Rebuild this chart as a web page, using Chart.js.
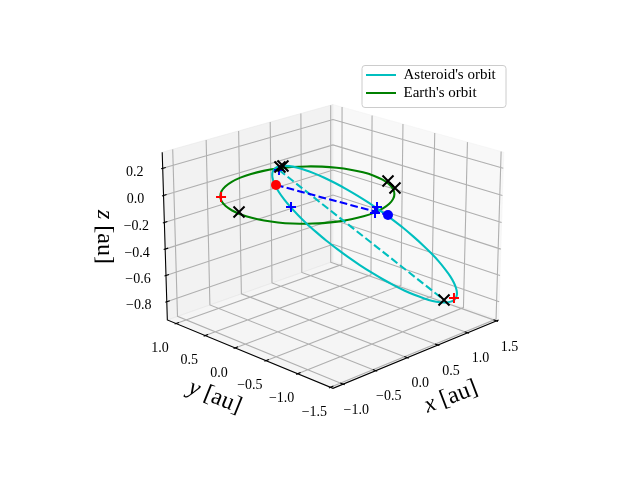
<!DOCTYPE html>
<html><head><meta charset="utf-8"><style>html,body{margin:0;padding:0;background:#fff}canvas{display:block}</style>
<script src="https://cdn.jsdelivr.net/npm/chart.js@4"></script></head><body><canvas id="c" width="640" height="480"></canvas>
<script>
const xLim=[-1.10,1.485], yLim=[-1.485,1.10], zLim=[-0.9155,0.2915];
const xTicks=[-1,-0.5,0,0.5,1,1.5], yTicks=[-1.5,-1,-0.5,0,0.5,1], zTicks=[-0.8,-0.6,-0.4,-0.2,0,0.2];
const asteroidX=[0.086,0.171,0.260,0.351,0.444,0.537,0.629,0.717,0.802,0.881,0.953,1.018,1.073,1.118,1.152,1.174,1.184,1.182,1.167,1.140,1.100,1.049,0.988,0.917,0.837,0.751,0.659,0.563,0.466,0.367,0.271,0.176,0.087,0.003,-0.074,-0.142,-0.201,-0.250,-0.289,-0.316,-0.332,-0.336,-0.329,-0.311,-0.282,-0.242,-0.193,-0.135,-0.068,0.006,0.086];
const asteroidY=[-1.038,-1.128,-1.209,-1.278,-1.336,-1.381,-1.412,-1.429,-1.432,-1.419,-1.392,-1.350,-1.294,-1.224,-1.143,-1.049,-0.946,-0.835,-0.717,-0.595,-0.470,-0.345,-0.222,-0.103,0.009,0.114,0.208,0.291,0.361,0.417,0.459,0.484,0.494,0.489,0.468,0.432,0.382,0.319,0.244,0.159,0.064,-0.038,-0.147,-0.260,-0.376,-0.493,-0.610,-0.724,-0.835,-0.940,-1.038];
const asteroidZ=[0.031,-0.028,-0.090,-0.156,-0.224,-0.293,-0.362,-0.431,-0.497,-0.561,-0.621,-0.676,-0.725,-0.767,-0.801,-0.828,-0.846,-0.855,-0.854,-0.844,-0.825,-0.796,-0.759,-0.714,-0.662,-0.604,-0.540,-0.473,-0.402,-0.330,-0.257,-0.185,-0.116,-0.049,0.014,0.071,0.123,0.167,0.205,0.235,0.256,0.269,0.274,0.270,0.258,0.238,0.210,0.175,0.133,0.085,0.031];
const earthX=[-0.669,-0.780,-0.868,-0.931,-0.967,-0.974,-0.953,-0.903,-0.826,-0.722,-0.595,-0.448,-0.284,-0.110,0.070,0.249,0.422,0.582,0.725,0.844,0.937,0.999,1.030,1.028,0.994,0.930,0.838,0.721,0.585,0.433,0.270,0.101,-0.069,-0.235,-0.393,-0.539,-0.669];
const earthY=[-0.669,-0.548,-0.411,-0.260,-0.100,0.065,0.230,0.392,0.544,0.682,0.803,0.901,0.973,1.016,1.029,1.010,0.960,0.880,0.772,0.641,0.490,0.325,0.151,-0.024,-0.197,-0.361,-0.510,-0.642,-0.751,-0.836,-0.894,-0.924,-0.926,-0.900,-0.847,-0.769,-0.669];
const blackX=[-0.934,1.004,0.877,0.486,-0.330,1.144], blackY=[0.139,-0.274,-0.504,0.980,0.069,-1.045], blackZ=[0,0,0,0,0.254,-0.804];
const redPlusX=[-0.732,1.093], redPlusY=[0.658,-1.241], redPlusZ=[0,-0.746];
const bluePlusX=[0.177,0.041,0.119,-0.276], bluePlusY=[0.475,-1.022,-0.918,0.191], bluePlusZ=[-0.185,0.065,-0.006,0.200];
const redDot=[-0.084,0.446,0.024], blueDot=[0.123,-1.110,0.008];
const apsisEnds=[[-0.276,0.191,0.200],[1.144,-1.045,-0.804]];
const elev=20, azim=-135, dist=10, K=1.8294640721620434;
const n0=Math.hypot(4,4,3), box=[4*K/n0,4*K/n0,3*K/n0];
const el=elev*Math.PI/180, az=azim*Math.PI/180;
const nv=[Math.cos(el)*Math.cos(az),Math.cos(el)*Math.sin(az),Math.sin(el)];
const uv=[-Math.sin(az),Math.cos(az),0];
const vv=[nv[1]*uv[2]-nv[2]*uv[1],nv[2]*uv[0]-nv[0]*uv[2],nv[0]*uv[1]-nv[1]*uv[0]];
function P(x,y,z){const q=[((x-xLim[0])/(xLim[1]-xLim[0])-.5)*box[0],((y-yLim[0])/(yLim[1]-yLim[0])-.5)*box[1],((z-zLim[0])/(zLim[1]-zLim[0])-.5)*box[2]];
 const d=a=>a[0]*q[0]+a[1]*q[1]+a[2]*q[2]; const D=dist-d(nv); return {x:d(uv)/D,y:d(vv)/D};}
const mx=(xLim[1]-xLim[0])/48,my=(yLim[1]-yLim[0])/48,mz=(zLim[1]-zLim[0])/48;
const X0=xLim[0]-mx,X1=xLim[1]+mx,Y0=yLim[0]-my,Y1=yLim[1]+my,Z0=zLim[0]-mz,Z1=zLim[1]+mz;
const gap={x:NaN,y:NaN};
const grid=[],ticks=[];
xTicks.forEach(t=>{grid.push(P(t,Y0,Z0),P(t,Y1,Z0),P(t,Y1,Z1),gap);ticks.push(P(t,Y0+(Y1-Y0)/12*.2,Z0),P(t,Y0-(Y1-Y0)/12*.1,Z0),gap);});
yTicks.forEach(t=>{grid.push(P(X0,t,Z0),P(X1,t,Z0),P(X1,t,Z1),gap);ticks.push(P(X0+(X1-X0)/12*.2,t,Z0),P(X0-(X1-X0)/12*.1,t,Z0),gap);});
zTicks.forEach(t=>{grid.push(P(X0,Y1,t),P(X1,Y1,t),P(X1,Y0,t),gap);ticks.push(P(X0+(X1-X0)/12*.2,Y1,t),P(X0-(X1-X0)/12*.1,Y1,t),gap);});
const spine=[P(X0,Y1,Z1),P(X0,Y1,Z0),P(X0,Y0,Z0),P(X1,Y0,Z0)];
const line=(data,c,w,extra)=>Object.assign({type:'line',data,borderColor:c,backgroundColor:c,borderWidth:w,pointRadius:0,pointBorderWidth:w,tension:0,spanGaps:false,fill:false},extra||{});
const marks=(xs,ys,zs,c,style,r,label)=>({type:'scatter',label,showLine:false,data:xs.map((x,i)=>P(x,ys[i],zs[i])),pointStyle:style,pointRadius:r,pointBorderColor:c,pointBackgroundColor:c,pointBorderWidth:style==='circle'?0:2});
const fmt=t=>(t<0?'\u2212':'')+Math.abs(t).toFixed(1);
const SERIF='"Liberation Serif"';
const textPlugin={id:'txt',
 beforeDraw(c){const g=c.ctx;g.save();g.fillStyle='rgba(255,255,255,.8)';g.strokeStyle='#cccccc';g.lineWidth=1;g.beginPath();g.roundRect(362,65.5,144,42,3);g.fill();g.stroke();g.restore();},
 afterLayout(c){const L=c.legend;const w=L.width,h=L.height;L.left=363;L.right=L.left+w;L.top=64.5;L.bottom=L.top+h;},
 afterDraw(c){const g=c.ctx,sx=c.scales.x,sy=c.scales.y;g.save();g.fillStyle='#000';g.textAlign='center';g.textBaseline='middle';g.font='14px '+SERIF;
  const put=(p,dx,dy,s)=>g.fillText(s,sx.getPixelForValue(p.x)+dx,sy.getPixelForValue(p.y)+dy);
  xTicks.forEach(t=>put(P(t,Y0,Z0),13,26,fmt(t)));
  yTicks.forEach(t=>put(P(X0,t,Z0),-16,25,fmt(t)));
  zTicks.forEach(t=>put(P(X0,Y1,t),-28,4,fmt(t)));
  const F=24,lab=(cx,cy,rot,a)=>{g.save();g.translate(cx,cy);g.rotate(rot*Math.PI/180);g.textAlign='left';g.font='italic '+F+'px '+SERIF;const w1=g.measureText(a+' ').width;g.font=F+'px '+SERIF;const w2=g.measureText('[au]').width;let x=-(w1+w2)/2;g.font='italic '+F+'px '+SERIF;g.fillText(a,x,0);g.font=F+'px '+SERIF;g.fillText('[au]',x+w1,0);g.restore();};
  lab(451,397,-21,'x');lab(215,397,22,'y');lab(104,237,90,'z');
  g.restore();}};
new Chart(document.getElementById('c'),{type:'scatter',plugins:[textPlugin],data:{datasets:[
 marks(redPlusX,redPlusY,redPlusZ,'#ff0000','cross',5,'red plus'),
 marks(blackX,blackY,blackZ,'#000000','crossRot',7.8,'black x'),
 marks(bluePlusX,bluePlusY,bluePlusZ,'#0000ff','cross',5,'blue plus'),
 marks([redDot[0]],[redDot[1]],[redDot[2]],'#ff0000','circle',5,'red dot'),
 marks([blueDot[0]],[blueDot[1]],[blueDot[2]],'#0000ff','circle',5,'blue dot'),
 line([P(...redDot),P(...blueDot)],'#0000ff',2.08,{label:'nodes',borderDash:[7.7,3.3]}),
 line(apsisEnds.map(p=>P(...p)),'#00bfbf',2.08,{label:'apsides',borderDash:[7.7,3.3]}),
 line(asteroidX.map((x,i)=>P(x,asteroidY[i],asteroidZ[i])),'#00bfbf',2.08,{label:"Asteroid's orbit",tension:.3}),
 line(earthX.map((x,i)=>P(x,earthY[i],0)),'#008000',2.08,{label:"Earth's orbit",tension:.3}),
 line(ticks,'#000',1.1,{label:'ticks'}),
 line(spine,'#000',1.1,{label:'spine'}),
 line(grid,'#b0b0b0',1.1,{label:'grid'}),
 line([P(X1,Y0,Z0),P(X1,Y1,Z0),P(X1,Y1,Z1),P(X1,Y0,Z1),P(X1,Y0,Z0)],'rgba(242,242,242,.5)',1,{label:'paneX',fill:'shape',backgroundColor:'rgba(242,242,242,.5)'}),
 line([P(X0,Y1,Z0),P(X1,Y1,Z0),P(X1,Y1,Z1),P(X0,Y1,Z1),P(X0,Y1,Z0)],'rgba(230,230,230,.5)',1,{label:'paneY',fill:'shape',backgroundColor:'rgba(230,230,230,.5)'}),
 line([P(X0,Y0,Z0),P(X1,Y0,Z0),P(X1,Y1,Z0),P(X0,Y1,Z0),P(X0,Y0,Z0)],'rgba(236,236,236,.5)',1,{label:'paneZ',fill:'shape',backgroundColor:'rgba(236,236,236,.5)'})
]},options:{responsive:false,animation:false,clip:false,layout:{padding:{left:143.2,right:127.2,top:57.6,bottom:52.8}},
 scales:{x:{type:'linear',display:false,min:-0.095,max:0.09},y:{type:'linear',display:false,min:-0.095,max:0.09}},
 plugins:{tooltip:{enabled:false},legend:{position:'chartArea',align:'start',labels:{filter:i=>/orbit/.test(i.text),usePointStyle:true,pointStyle:'line',pointStyleWidth:30,padding:3,color:'#000',font:{family:SERIF,size:15}}}}}});
</script></body></html>
